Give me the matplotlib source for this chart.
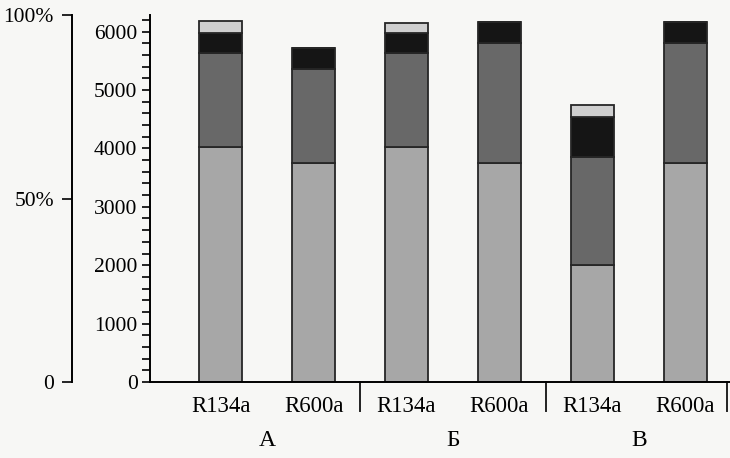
import matplotlib.pyplot as plt
from matplotlib.ticker import MultipleLocator

plt.rcParams['font.family'] = ['Liberation Serif', 'DejaVu Serif']

labels = ['R134a', 'R600a', 'R134a', 'R600a', 'R134a', 'R600a']
groups = ['А', 'Б', 'В']
part1 = [4020, 3750, 4020, 3750, 2000, 3750]   # bottom, light grey
part2 = [1610, 1610, 1610, 2055, 1850, 2055]   # dark grey
part3 = [340, 360, 340, 360, 685, 360]         # black
part4 = [205, 0, 170, 0, 205, 0]               # top, pale grey

colors = ['#a7a7a7', '#686868', '#151515', '#cfcfcf']

fig = plt.figure(figsize=(7.3, 4.58), dpi=100)
fig.patch.set_facecolor('#f7f7f5')
bot, top = (458 - 382) / 458, (458 - 15) / 458
ax = fig.add_axes([150 / 730, bot, 580 / 730, top - bot])
ax.set_facecolor('none')

x = list(range(len(labels)))
base = [0] * len(x)
for vals, c in zip([part1, part2, part3, part4], colors):
    ax.bar(x, vals, bottom=base, width=0.46, color=c, edgecolor='#262626', linewidth=1.3)
    base = [b + v for b, v in zip(base, vals)]

ax.set_xlim(-0.76, 5.48)
ax.set_ylim(0, 6285)
ax.yaxis.set_major_locator(MultipleLocator(1000))
ax.yaxis.set_minor_locator(MultipleLocator(200))
ax.tick_params(axis='y', which='both', direction='out', length=6, width=1.2, labelsize=15.5, pad=3)
ax.tick_params(axis='x', length=0, labelsize=16.5, pad=10)
ax.set_xticks(x)
ax.set_xticklabels(labels)
for s in ['top', 'right']:
    ax.spines[s].set_visible(False)
for s in ['left', 'bottom']:
    ax.spines[s].set_linewidth(1.4)

# group separators and group names
for sx in [1.5, 3.5, 5.45]:
    ax.plot([sx, sx], [0, -500], color='#222222', lw=1.4, clip_on=False)
for i, g in enumerate(groups):
    ax.text(2 * i + 0.5, -1000, g, ha='center', va='center', fontsize=17)

# left percentage scale
ax2 = fig.add_axes([72 / 730, bot, 0.001, top - bot])
ax2.set_facecolor('none')
ax2.set_ylim(0, 100)
ax2.set_yticks([0, 50, 100])
ax2.set_yticklabels(['0', '50%', '100%'])
ax2.set_xticks([])
ax2.tick_params(axis='y', direction='out', length=7, width=1.2, labelsize=15.5, pad=6)
for s in ['top', 'right', 'bottom']:
    ax2.spines[s].set_visible(False)
ax2.spines['left'].set_linewidth(1.4)

fig.savefig('out.png', dpi=100, facecolor=fig.get_facecolor())
